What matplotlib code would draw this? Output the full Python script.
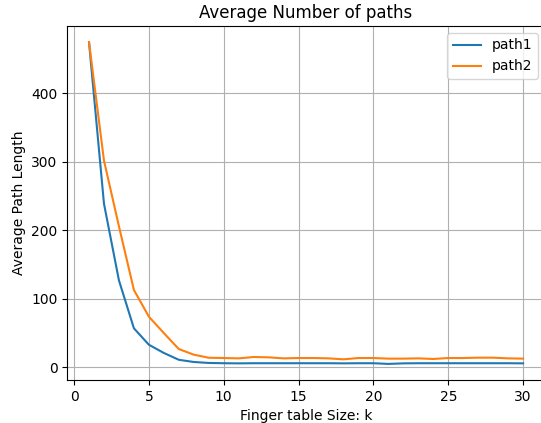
import matplotlib
matplotlib.use("Agg")
import matplotlib.pyplot as plt

k = list(range(1, 31))
path1 = [475, 239, 127, 57, 33, 21, 11, 7.8, 6.4, 6.0,
         5.8, 6.0, 6.0, 6.0, 6.0, 6.0, 6.0, 5.8, 6.0, 6.0,
         5.0, 5.8, 6.0, 6.0, 6.0, 6.0, 6.0, 6.0, 6.0, 5.8]
path2 = [475, 302, 206, 113, 74, 50, 26.7, 18.5, 14.0, 13.6,
         13.1, 15.1, 14.6, 13.1, 13.6, 13.6, 13.1, 11.7, 13.6, 13.6,
         12.7, 12.7, 13.1, 12.2, 13.6, 13.6, 14.1, 14.1, 13.1, 12.7]
labels = ["path1", "path2"]

fig = plt.figure(figsize=(5.41, 4.23), dpi=100)
ax = fig.add_axes([67.3/541, 43/423, (544.8-67.3)/541, (380-26)/423])
ax.plot(k, path1, color="#1f77b4", lw=1.5, label=labels[0])
ax.plot(k, path2, color="#ff7f0e", lw=1.5, label=labels[1])
ax.set_xticks([0, 5, 10, 15, 20, 25, 30])
ax.set_yticks([0, 100, 200, 300, 400])
ax.grid(True, color="#b0b0b0", lw=0.8)
ax.set_axisbelow(True)
ax.spines["right"].set_visible(False)
ax.set_title("Average Number of paths", fontsize=12)
ax.set_xlabel("Finger table Size: k")
ax.set_ylabel("Average Path Length")
ax.legend(loc="upper right")
fig.savefig("out.png", dpi=100)
